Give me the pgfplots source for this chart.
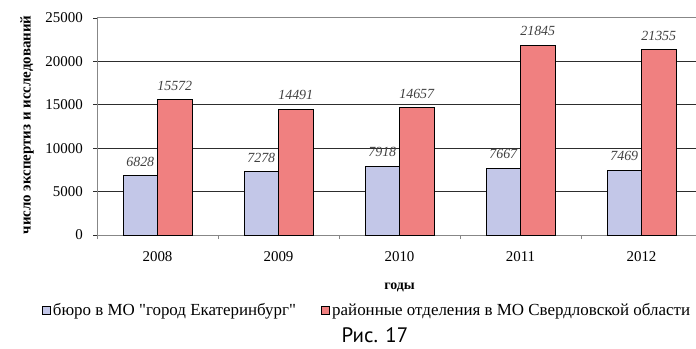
\documentclass[border=0pt]{standalone}
\usepackage{fontspec}
\setmainfont{Liberation Serif}
% plain serif without TeX ligatures, so that " stays a straight quote
\newfontfamily\plainserif{Liberation Serif}
\newfontfamily\capfont{PT Sans}
\usepackage{pgfplots}
\pgfplotsset{compat=1.18}

\definecolor{barblue}{RGB}{195,199,232}
\definecolor{barred}{RGB}{240,128,128}
\definecolor{labelgray}{RGB}{64,64,64}
\definecolor{axisgray}{RGB}{135,135,135}
\definecolor{gridgray}{RGB}{45,45,45}

\begin{document}
\begin{tikzpicture}[x=1bp,y=1bp]
\clip (0,0) rectangle (696,348);
\begin{axis}[
  at={(97bp,113bp)}, anchor=south west,
  scale only axis, width=605bp, height=217bp,
  xmin=-0.5, xmax=4.5, ymin=0, ymax=25000,
  ybar=0pt, bar width=34.5bp,
  xtick={0,...,4}, xticklabels={2008,2009,2010,2011,2012},
  major x tick style={draw=none},
  minor xtick={-0.5,0.5,...,4.5},
  minor x tick style={axisgray, line width=1bp}, minor tick length=4bp,
  ytick={0,5000,...,20000},
  extra y ticks={25000},
  ymajorgrids, grid style={gridgray, line width=0.8bp},
  major y tick style={gridgray, line width=0.8bp},
  extra y tick style={grid style={axisgray, line width=1bp}, major tick style={axisgray, line width=1bp}},
  tick align=outside, major tick length=4bp,
  axis x line*=bottom, axis y line*=left,
  axis line style={axisgray, line width=1bp},
  scaled y ticks=false,
  ticklabel style={font=\fontsize{15}{15}\selectfont},
  xticklabel style={anchor=north, inner sep=0pt, yshift=-12bp},
  yticklabel style={anchor=east, inner sep=0pt, xshift=-10bp},
  nodes near coords,
  nodes near coords style={font=\itshape\fontsize{14}{14}\selectfont, text=labelgray, anchor=south, inner sep=0pt, yshift=9bp},
  xlabel={годы},
  xlabel style={font=\bfseries\fontsize{14}{14}\selectfont, at={(axis description cs:0.5,-0.24)}, anchor=center},
  ylabel={число экспертиз и исследований},
  ylabel style={font=\bfseries\fontsize{15}{15}\selectfont, at={(axis description cs:-0.1157,0.507)}, anchor=center},
  legend columns=2,
  legend style={at={(axis description cs:-0.0917,-0.3456)}, anchor=west, draw=none, fill=none,
    font=\plainserif\fontsize{17}{17}\selectfont, inner sep=0pt,
    nodes={inner xsep=2.5bp, inner ysep=0bp},
    /tikz/every even column/.append style={column sep=22.5bp}},
  legend image code/.code={\draw[#1, draw=black, line width=0.7bp] (0bp,-4bp) rectangle (8bp,4bp);},
  /pgf/number format/1000 sep={},
  /pgf/number format/assume math mode=true,
]
\addplot[fill=barblue, draw=black, line width=1bp]
  coordinates {(0,6828) (1,7278) (2,7918) (3,7667) (4,7469)};
\addplot[fill=barred, draw=black, line width=1bp]
  coordinates {(0,15572) (1,14491) (2,14657) (3,21845) (4,21355)};
\legend{бюро в МО "город Екатеринбург", районные отделения в МО Свердловской области}
\end{axis}
\node[font=\capfont\fontsize{21}{21}\selectfont] at (375,12.5) {Рис. 17};
\end{tikzpicture}
\end{document}
